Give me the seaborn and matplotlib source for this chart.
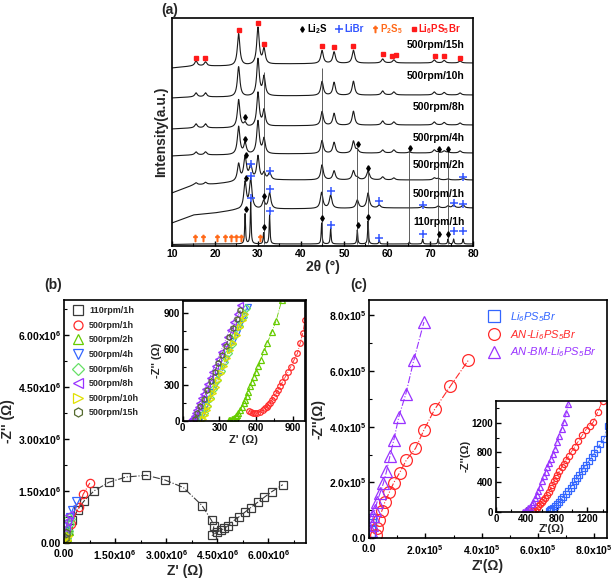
"""XRD patterns (a) and Nyquist plots (b, c) for Li6PS5Br milling series."""

import matplotlib
matplotlib.use("Agg")
import matplotlib.pyplot as plt
import numpy as np
import seaborn as sns
from matplotlib.lines import Line2D
from matplotlib.ticker import FuncFormatter, MultipleLocator

# ---------------- (a) XRD, values ----------------
XRD_LABELS = ["500rpm/15h", "500rpm/10h", "500rpm/8h", "500rpm/4h",
              "500rpm/2h", "500rpm/1h", "110rpm/1h"]
LABEL_Y = [201, 170, 139, 108, 81, 52, 24]
BASE_X = [10, 15, 20, 25, 35, 60, 80]
BASE_Y = [
    [178, 180, 180, 180, 182, 183, 183],
    [148, 149, 149, 149, 150, 151, 151],
    [117, 118, 118, 118, 120, 121, 121],
    [90, 91, 91, 91, 92, 93, 93],
    [53, 61, 62, 64, 66, 66, 66],
    [23, 31, 33, 36, 37, 38, 38],
    [1.5, 2, 2, 2, 2, 2, 2],
]
PEAK_HWHM = [0.35, 0.35, 0.35, 0.35, 0.4, 0.35, 0.12]

LPSB_POS = [15.6, 17.8, 25.5, 30.0, 31.4, 44.9, 47.7, 52.2, 59.0, 61.6, 71.0, 73.3, 77.0]
LPSB_H = [
    [5, 4, 32, 37, 15, 13, 11.5, 13, 4, 3, 3, 2.5, 2],
    [4, 4, 30, 37, 19, 14, 13, 14, 4, 3, 3, 2.5, 2],
    [4, 4, 28, 34, 16, 14, 12, 14, 4, 3, 3, 2.5, 2],
    [3, 3, 28, 33, 15, 13, 11, 12, 3, 3, 3, 2, 2],
    [2, 2, 17, 24, 7, 15, 9, 9, 3, 2, 2, 0, 0],
    [0, 0, 0, 0, 0, 0, 0, 0, 0, 0, 0, 0, 0],
    [0, 0, 0, 0, 0, 0, 0, 0, 0, 0, 0, 0, 0],
]
LI2S_POS = [27.0, 31.3, 44.8, 53.1, 55.6, 65.2, 71.9, 74.2]
LI2S_H = [
    [0, 0, 0, 0, 0, 0, 0, 0],
    [0, 0, 0, 0, 0, 0, 0, 0],
    [4, 0, 0, 0, 0, 0, 0, 0],
    [11, 0, 0, 3, 0, 1, 1, 1],
    [23, 0, 0, 2, 8.5, 0, 1.5, 1],
    [27, 8, 16, 8, 15, 0, 2, 2],
    [30, 11, 21, 14, 23, 2, 5, 5],
]
LIBR_POS = [28.3, 32.7, 46.9, 58.2, 68.3, 75.5, 77.7]
LIBR_H = [
    [0, 0, 0, 0, 0, 0, 0],
    [0, 0, 0, 0, 0, 0, 0],
    [0, 0, 0, 0, 0, 0, 0],
    [0, 0, 0, 0, 0, 0, 0],
    [14, 7, 0, 0, 0, 0, 1.5],
    [30, 16, 13, 3, 2, 3, 3],
    [42, 29, 16, 4, 5, 5, 5],
]

LPSB_MARK_X = [15.6, 17.6, 25.5, 30.0, 31.4, 44.8, 47.7, 52.2, 59.0, 61.1, 62.1, 71.2, 73.3, 77.0]
LPSB_MARK_Y = [188, 188, 216, 223, 202, 200, 199, 200, 192, 190, 191, 190, 190, 188]
LI2S_MARK_X = [27.0, 27.0, 53.2, 65.3, 72.0, 74.3, 27.1, 55.6, 27.1, 31.3,
               27.1, 31.3, 44.8, 53.2, 55.6, 72.0, 74.3]
LI2S_MARK_Y = [129, 107, 102, 97.5, 96.5, 96.5, 91, 78, 67.7, 50,
               37, 18.6, 28, 21, 29.4, 12, 12]
LIBR_MARK_X = [28.3, 32.7, 77.7, 28.3, 32.7, 46.9, 58.2, 68.3, 75.5, 77.7,
               28.3, 32.7, 46.9, 58.2, 68.3, 75.5, 77.7]
LIBR_MARK_Y = [82, 75, 69, 70, 57, 55, 45, 41, 43, 42,
               48, 35, 21, 8, 12, 15, 15]
P2S5_MARK_X = [15.3, 17.3, 20.4, 22.3, 23.7, 25.0, 26.0, 30.5]
P2S5_MARK_Y = [8, 8, 8, 8, 8, 8, 8, 8]
GUIDE_X = [31.3, 44.8, 53.1, 55.6, 65.2, 71.9, 74.2]
GUIDE_TOP = [174, 178, 99, 76, 96, 94, 94]

# ---------------- (b) Nyquist, milling series ----------------
B_LABELS = ["110rpm/1h", "500rpm/1h", "500rpm/2h", "500rpm/4h",
            "500rpm/6h", "500rpm/8h", "500rpm/10h", "500rpm/15h"]
B_COLORS = ["#3a3a3a", "#ff2a2a", "#66cc00", "#3366ff",
            "#66e066", "#9933ff", "#e0e000", "#556b2f"]
B_MARKERS = ["s", "o", "^", "v", "D", "<", ">", "h"]

# main plot, x and y in units of 1e6 ohm
B_MAIN_X = [
    [0.05, 0.12, 0.25, 0.40, 0.58, 0.88, 1.32, 1.82, 2.42, 2.95, 3.50, 4.05, 4.33, 4.40,
     4.35, 4.50, 4.60, 4.70, 4.82, 4.95, 5.13, 5.30, 5.48, 5.68, 5.88, 6.10, 6.42],
    [0.03, 0.20, 0.45, 0.56, 0.76],
    [0.06, 0.10, 0.14],
    [0.05, 0.12, 0.18, 0.25, 0.35],
    [0.04, 0.08, 0.12, 0.16],
    [0.02, 0.05, 0.10, 0.15],
    [0.03, 0.08, 0.12],
    [0.02, 0.05],
]
B_MAIN_Y = [
    [0.15, 0.35, 0.65, 0.95, 1.20, 1.50, 1.75, 1.90, 1.95, 1.82, 1.60, 1.08, 0.65, 0.50,
     0.22, 0.32, 0.36, 0.42, 0.50, 0.62, 0.75, 0.88, 1.02, 1.17, 1.32, 1.48, 1.68],
    [0.05, 0.55, 1.05, 1.40, 1.73],
    [0.05, 0.18, 0.35],
    [0.25, 0.55, 0.75, 0.95, 1.20],
    [0.15, 0.35, 0.55, 0.70],
    [0.15, 0.42, 0.62, 0.80],
    [0.02, 0.10, 0.20],
    [0.15, 0.30],
]
# inset, ohm (110rpm/1h lies outside the inset window)
B_INSET_X = [
    [],
    [545, 560, 575, 592, 610, 633, 655, 673, 690, 700, 715, 728, 745, 764, 780, 796,
     815, 837, 860, 884, 910, 938, 960, 982, 1000],
    [380, 390, 400, 410, 420, 432, 445, 455, 470, 483, 497, 510, 525, 537, 552, 565,
     582, 600, 618, 638, 665, 693, 728, 764, 810],
    [140, 155, 170, 190, 210, 235, 260, 290, 320, 350, 380, 410, 440, 470, 500, 530],
    [150, 170, 195, 220, 250, 280, 310, 340, 370, 400, 430, 460, 490, 520],
    [70, 74, 82, 90, 100, 110, 122, 135, 150, 165, 182, 200, 220, 240, 262, 285, 310,
     335, 360, 385, 410, 440, 470],
    [165, 180, 195, 210, 230, 250, 270, 292, 315, 340, 365, 390, 415, 440, 465, 490, 510],
    [100, 120, 145, 170, 200, 230, 260, 290, 320, 350, 380, 410, 440, 470],
]
B_INSET_Y = [
    [],
    [78, 70, 65, 61, 63, 75, 88, 103, 118, 130, 150, 172, 198, 228, 258, 289,
     322, 361, 405, 450, 505, 561, 645, 733, 840],
    [5, 8, 12, 18, 25, 35, 50, 61, 85, 117, 145, 172, 205, 242, 285, 325,
     365, 408, 455, 506, 578, 650, 740, 833, 1005],
    [12, 48, 84, 132, 180, 240, 300, 372, 444, 516, 588, 660, 732, 804, 876, 948],
    [12, 62, 125, 187, 262, 337, 412, 487, 562, 637, 712, 787, 862, 937],
    [5, 12, 22, 39, 63, 88, 117, 149, 185, 222, 264, 307, 356, 405, 459, 515, 576,
     637, 698, 759, 820, 893, 966],
    [10, 49, 87, 125, 177, 228, 279, 335, 394, 458, 522, 586, 650, 714, 778, 842, 893],
    [12, 61, 122, 184, 257, 331, 404, 478, 551, 625, 698, 772, 845, 919],
]

# ---------------- (c) Nyquist, annealed samples ----------------
C_LABELS = ["Li$_6$PS$_5$Br", "AN-Li$_6$PS$_5$Br", "AN-BM-Li$_6$PS$_5$Br"]
C_COLORS = ["#3366ff", "#ff2a2a", "#9933ff"]
C_MARKERS = ["s", "o", "^"]
# main plot, units of 1e5 ohm
C_MAIN_X = [
    [0.010, 0.014, 0.018, 0.022],
    [0.25, 0.29, 0.36, 0.45, 0.56, 0.72, 0.88, 1.09, 1.33, 1.65, 1.95, 2.33, 2.89, 3.53],
    [0.06, 0.09, 0.15, 0.21, 0.29, 0.39, 0.51, 0.62, 0.74, 0.88, 1.06, 1.31, 1.59, 1.95],
]
C_MAIN_Y = [
    [0.08, 0.25, 0.45, 0.65],
    [0.12, 0.36, 0.66, 0.96, 1.28, 1.64, 1.99, 2.35, 2.81, 3.22, 3.88, 4.62, 5.46, 6.39],
    [0.24, 0.48, 0.78, 1.01, 1.31, 1.61, 1.97, 2.39, 2.93, 3.52, 4.36, 5.19, 6.39, 7.76],
]
# inset, ohm
C_INSET_X = [
    [690, 705, 717, 745, 774, 800, 830, 855, 883, 915, 949, 978, 1006, 1035, 1067, 1095,
     1124, 1150, 1180, 1218, 1255, 1290, 1320, 1370, 1416, 1465],
    [470, 490, 510, 533, 555, 577, 598, 620, 642, 664, 690, 717, 738, 760, 782, 804, 832,
     861, 890, 918, 955, 992, 1035, 1080, 1130, 1180, 1228, 1276, 1335, 1399],
    [358, 380, 402, 425, 446, 468, 490, 512, 533, 555, 577, 603, 630, 652, 673, 697, 721,
     748, 774, 802, 830, 862, 892, 920, 949],
]
C_INSET_Y = [
    [9, 20, 32, 55, 77, 105, 136, 170, 204, 245, 285, 325, 362, 408, 453, 500,
     544, 590, 634, 686, 738, 792, 847, 915, 983, 1155],
    [5, 14, 28, 45, 72, 100, 128, 158, 190, 226, 270, 317, 360, 408, 450, 498, 550,
     602, 650, 702, 757, 815, 880, 951, 1030, 1110, 1160, 1210, 1350, 1500],
    [0, 10, 23, 45, 68, 100, 136, 180, 226, 283, 340, 408, 476, 540, 602, 656, 711,
     780, 847, 935, 1028, 1120, 1210, 1330, 1450],
]


def set_style() -> None:
    sns.set_theme(style="ticks")
    plt.rcParams["font.family"] = ["Liberation Sans", "DejaVu Sans"]
    plt.rcParams["font.weight"] = "bold"
    plt.rcParams["axes.labelweight"] = "bold"
    plt.rcParams["mathtext.default"] = "regular"
    plt.rcParams["axes.linewidth"] = 1.2
    plt.rcParams["axes.edgecolor"] = "black"
    for ax_name in ("xtick", "ytick"):
        plt.rcParams[f"{ax_name}.direction"] = "in"
        plt.rcParams[f"{ax_name}.major.size"] = 3.5
        plt.rcParams[f"{ax_name}.minor.size"] = 2
        plt.rcParams[f"{ax_name}.major.width"] = 1.0
        plt.rcParams[f"{ax_name}.minor.width"] = 0.8
        plt.rcParams[f"{ax_name}.color"] = "black"
        plt.rcParams[f"{ax_name}.labelsize"] = 7.5
        plt.rcParams[f"{ax_name}.major.pad"] = 2


def xrd_profile(two_theta, idx):
    y = np.interp(two_theta, BASE_X, BASE_Y[idx])
    w = PEAK_HWHM[idx]
    for pos, hts in ((LPSB_POS, LPSB_H), (LI2S_POS, LI2S_H), (LIBR_POS, LIBR_H)):
        width = 0.35 if hts is LPSB_H and idx < 5 else w
        for p, h in zip(pos, hts[idx]):
            if h:
                y = y + h / (1 + ((two_theta - p) / width) ** 2)
    return y


def draw_xrd(fig):
    ax = fig.add_axes([0.2801, 0.5759, 0.4902, 0.3931])
    two_theta = np.linspace(10, 80, 2801)
    for i, label in enumerate(XRD_LABELS):
        sns.lineplot(x=two_theta, y=xrd_profile(two_theta, i), color="#1a1a1a",
                     linewidth=0.8, ax=ax, estimator=None, sort=False)
        ax.text(78, LABEL_Y[i], label, ha="right", va="center", fontsize=7.5,
                fontweight="bold", color="black")
    ax.vlines(GUIDE_X, 2, GUIDE_TOP, color="#444444", linewidth=0.6)
    ax.plot(LPSB_MARK_X, LPSB_MARK_Y, ls="none", marker="s", ms=3.4, color="#ff1a1a")
    ax.plot(LI2S_MARK_X, LI2S_MARK_Y, ls="none", marker="d", ms=2.8, color="black")
    ax.plot(LIBR_MARK_X, LIBR_MARK_Y, ls="none", marker="+", ms=6, mew=1.1, color="#3355ff")
    ax.plot(P2S5_MARK_X, P2S5_MARK_Y, ls="none", marker="$\\dagger$", ms=4.5, color="#ff6a1a")
    ax.set_xlim(10, 80)
    ax.set_ylim(0, 228)
    ax.set_yticks([])
    ax.xaxis.set_major_locator(MultipleLocator(10))
    ax.xaxis.set_minor_locator(MultipleLocator(5))
    ax.set_xlabel("2θ (°)", fontsize=10, labelpad=1)
    ax.set_ylabel("Intensity(a.u.)", fontsize=10, labelpad=3)
    handles = [
        Line2D([], [], ls="none", marker="d", ms=2.8, color="black"),
        Line2D([], [], ls="none", marker="+", ms=6, mew=1.1, color="#3355ff"),
        Line2D([], [], ls="none", marker="$\\dagger$", ms=4.5, color="#ff6a1a"),
        Line2D([], [], ls="none", marker="s", ms=3.4, color="#ff1a1a"),
    ]
    ax.legend(handles, ["Li$_2$S", "LiBr", "P$_2$S$_5$", "Li$_6$PS$_5$Br"], ncol=4,
              loc="upper right", bbox_to_anchor=(0.99, 1.02), frameon=False,
              fontsize=7, handletextpad=0.05, columnspacing=0.7, handlelength=0.9,
              labelcolor=["black", "#3355ff", "#ff6a1a", "#ff1a1a"])
    fig.text(0.262, 0.982, "(a)", fontsize=10, fontweight="bold", ha="left", va="center")


def draw_series(ax, xs, ys, color, marker, ms, lw=0.8):
    if not xs:
        return
    sns.lineplot(x=xs, y=ys, ax=ax, estimator=None, sort=False, color=color,
                 linestyle="-.", linewidth=lw, marker=marker, markersize=ms,
                 markerfacecolor="none", markeredgecolor=color, markeredgewidth=0.9)


def sci_formatter(scale, exp, decimals):
    def fmt(v, _):
        if abs(v) < 1e-12:
            return f"{0:.{decimals}f}"
        return f"{v / scale:.{decimals}f}x10$^{exp}$"
    return FuncFormatter(fmt)


def draw_b(fig):
    ax = fig.add_axes([0.1042, 0.0638, 0.3941, 0.4190])
    for i in range(len(B_LABELS)):
        xs = [v * 1e6 for v in B_MAIN_X[i]]
        ys = [v * 1e6 for v in B_MAIN_Y[i]]
        draw_series(ax, xs, ys, B_COLORS[i], B_MARKERS[i], 6)
    ax.set_xlim(0, 7.1e6)
    ax.set_ylim(0, 7.0e6)
    ax.xaxis.set_major_locator(MultipleLocator(1.5e6))
    ax.xaxis.set_minor_locator(MultipleLocator(0.75e6))
    ax.yaxis.set_major_locator(MultipleLocator(1.5e6))
    ax.yaxis.set_minor_locator(MultipleLocator(0.75e6))
    ax.xaxis.set_major_formatter(sci_formatter(1e6, 6, 2))
    ax.yaxis.set_major_formatter(sci_formatter(1e6, 6, 2))
    ax.tick_params(axis="x", pad=4)
    ax.set_xlabel("Z' (Ω)", fontsize=10, labelpad=1)
    ax.set_ylabel("-Z'' (Ω)", fontsize=10, labelpad=2)
    handles = [Line2D([], [], ls="none", marker=m, ms=6.5, mfc="none", mec=c, mew=0.9)
               for c, m in zip(B_COLORS, B_MARKERS)]
    ax.legend(handles, B_LABELS, loc="upper left", bbox_to_anchor=(0.01, 1.0),
              frameon=False, fontsize=6.5, labelspacing=0.62, handletextpad=0.6,
              handlelength=1.2, borderaxespad=0.3)
    fig.text(0.072, 0.509, "(b)", fontsize=10, fontweight="bold", ha="left", va="center")

    ins = fig.add_axes([0.2976, 0.2747, 0.1992, 0.2069])
    ins.set_facecolor("white")
    for i in range(len(B_LABELS)):
        draw_series(ins, B_INSET_X[i], B_INSET_Y[i], B_COLORS[i], B_MARKERS[i], 4, lw=0.6)
    ins.set_xlim(0, 1000)
    ins.set_ylim(0, 1000)
    ins.xaxis.set_major_locator(MultipleLocator(300))
    ins.xaxis.set_minor_locator(MultipleLocator(150))
    ins.yaxis.set_major_locator(MultipleLocator(300))
    ins.yaxis.set_minor_locator(MultipleLocator(150))
    ins.tick_params(labelsize=7)
    ins.set_xlabel("Z' (Ω)", fontsize=8, labelpad=1)
    ins.set_ylabel("-Z'' (Ω)", fontsize=8, labelpad=1)


def draw_c(fig):
    ax = fig.add_axes([0.6010, 0.0724, 0.3876, 0.4103])
    for i in range(len(C_LABELS)):
        xs = [v * 1e5 for v in C_MAIN_X[i]]
        ys = [v * 1e5 for v in C_MAIN_Y[i]]
        draw_series(ax, xs, ys, C_COLORS[i], C_MARKERS[i], 8.5)
    ax.set_xlim(0, 8.45e5)
    ax.set_ylim(0, 8.55e5)
    ax.xaxis.set_major_locator(MultipleLocator(2e5))
    ax.xaxis.set_minor_locator(MultipleLocator(1e5))
    ax.yaxis.set_major_locator(MultipleLocator(2e5))
    ax.yaxis.set_minor_locator(MultipleLocator(1e5))
    ax.xaxis.set_major_formatter(sci_formatter(1e5, 5, 1))
    ax.yaxis.set_major_formatter(sci_formatter(1e5, 5, 1))
    ax.tick_params(axis="x", pad=4)
    ax.set_xlabel("Z'(Ω)", fontsize=10, labelpad=1)
    ax.set_ylabel("-Z''(Ω)", fontsize=10, labelpad=2)
    handles = [Line2D([], [], ls="none", marker=m, ms=8.5, mfc="none", mec=c, mew=0.9)
               for c, m in zip(C_COLORS, C_MARKERS)]
    leg = ax.legend(handles, C_LABELS, loc="upper right", bbox_to_anchor=(1.0, 1.0),
                    frameon=False, fontsize=8, labelspacing=0.35, handletextpad=0.5,
                    labelcolor=C_COLORS)
    for t in leg.get_texts():
        t.set_fontstyle("italic")
        t.set_fontweight("normal")
    fig.text(0.570, 0.509, "(c)", fontsize=10, fontweight="bold", ha="left", va="center")

    ins = fig.add_axes([0.8078, 0.1178, 0.1813, 0.1914])
    ins.set_facecolor("white")
    for i in range(len(C_LABELS)):
        draw_series(ins, C_INSET_X[i], C_INSET_Y[i], C_COLORS[i], C_MARKERS[i], 4.5, lw=0.6)
    ins.set_xlim(0, 1460)
    ins.set_ylim(0, 1500)
    ins.xaxis.set_major_locator(MultipleLocator(400))
    ins.xaxis.set_minor_locator(MultipleLocator(200))
    ins.yaxis.set_major_locator(MultipleLocator(400))
    ins.yaxis.set_minor_locator(MultipleLocator(200))
    ins.tick_params(labelsize=7)
    ins.set_xlabel("Z'(Ω)", fontsize=8, labelpad=0)
    ins.set_ylabel("-Z''(Ω)", fontsize=8, labelpad=1)


def main() -> None:
    set_style()
    fig = plt.figure(figsize=(6.14, 5.80), dpi=100)
    draw_xrd(fig)
    draw_b(fig)
    draw_c(fig)
    fig.savefig("out.png", dpi=100)
    plt.close(fig)


if __name__ == "__main__":
    main()
